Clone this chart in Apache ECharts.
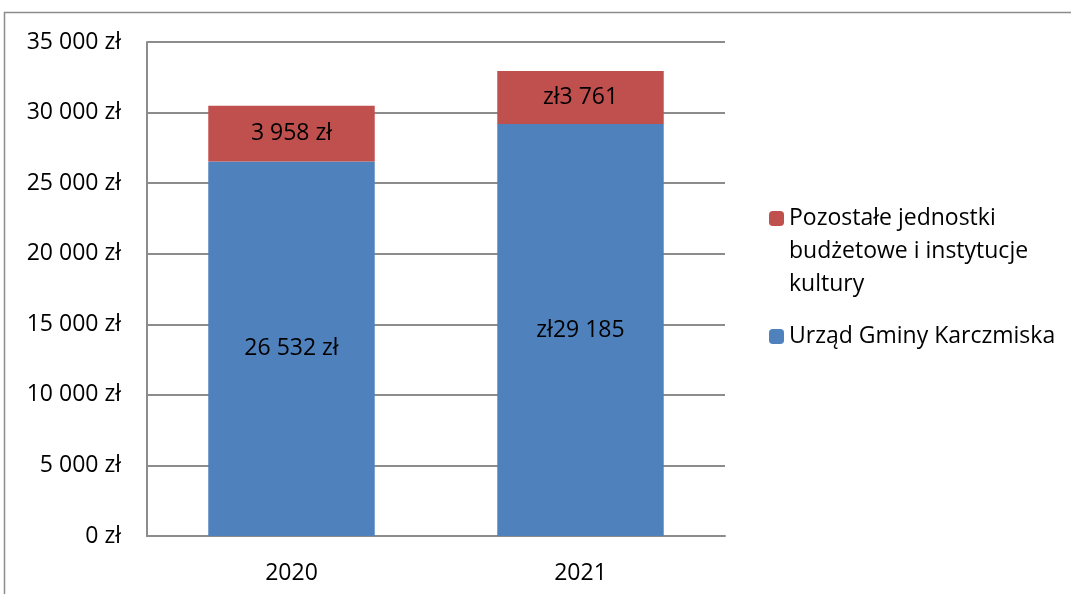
<!DOCTYPE html>
<html>
<head>
<meta charset="utf-8">
<script src="https://cdn.jsdelivr.net/npm/echarts@6/dist/echarts.min.js"></script>
<style>
  html, body { margin: 0; padding: 0; background: #fff; }
  #chart { width: 1071px; height: 594px; }
</style>
</head>
<body>
<div id="chart"></div>
<script>
const years = ['2020', '2021'];
const urzadValues = [26532, 29185];
const pozostaleValues = [3958, 3761];
// labels as printed in the source chart (formats differ per year)
const urzadLabels = ['26 532 zł', 'zł29 185'];
const pozostaleLabels = ['3 958 zł', 'zł3 761'];
const urzadName = 'Urząd Gminy Karczmiska';
const pozostaleName = 'Pozostałe jednostki budżetowe i instytucje kultury';

const font = 'Open Sans';
const fs = 23;

function fmtZl(v) {
    return String(v).replace(/\B(?=(\d{3})+(?!\d))/g, ' ') + ' zł';
}

let chart = echarts.init(document.getElementById('chart'));
chart.setOption({
    animation: false,
    textStyle: { fontFamily: font },
    grid: { left: 147, right: 346, top: 42, bottom: 58 },
    graphic: [{
        type: 'rect',
        shape: { x: 4.5, y: 12.5, width: 2000, height: 2000 },
        style: { fill: 'none', stroke: '#8c8c8c', lineWidth: 1.5 },
        silent: true
    }],
    legend: [{
        orient: 'vertical',
        left: 769,
        top: 136,
        padding: 0,
        itemWidth: 15,
        itemHeight: 15,
        data: [pozostaleName],
        // two empty lines on top keep the icon level with the first line
        formatter: () => '\n\nPozostałe jednostki\nbudżetowe i instytucje\nkultury',
        textStyle: { fontFamily: font, fontSize: fs, color: '#000', lineHeight: 33 }
    }, {
        orient: 'vertical',
        left: 769,
        top: 325,
        padding: 0,
        itemWidth: 15,
        itemHeight: 15,
        data: [urzadName],
        textStyle: { fontFamily: font, fontSize: fs, color: '#000' }
    }],
    xAxis: {
        type: 'category',
        data: years,
        axisLine: { lineStyle: { color: '#8c8c8c', width: 2 } },
        axisTick: { show: false },
        axisLabel: { color: '#000', fontSize: fs, margin: 26, fontFamily: font }
    },
    yAxis: {
        type: 'value',
        min: 0,
        max: 35000,
        interval: 5000,
        axisLine: { show: true, lineStyle: { color: '#8c8c8c', width: 2 } },
        axisTick: { show: false },
        splitLine: { lineStyle: { color: '#8c8c8c', width: 2 } },
        axisLabel: { color: '#000', fontSize: fs, margin: 26, fontFamily: font, formatter: fmtZl }
    },
    series: [{
        name: urzadName,
        type: 'bar',
        stack: 'total',
        barWidth: '57.6%',
        data: urzadValues,
        itemStyle: { color: '#4F81BD' },
        label: {
            show: true, position: 'inside', color: '#000', fontSize: fs, fontFamily: font,
            formatter: p => urzadLabels[p.dataIndex]
        }
    }, {
        name: pozostaleName,
        type: 'bar',
        stack: 'total',
        data: pozostaleValues,
        itemStyle: { color: '#C0504D' },
        label: {
            show: true, position: 'inside', color: '#000', fontSize: fs, fontFamily: font,
            formatter: p => pozostaleLabels[p.dataIndex]
        }
    }]
});
</script>
</body>
</html>
